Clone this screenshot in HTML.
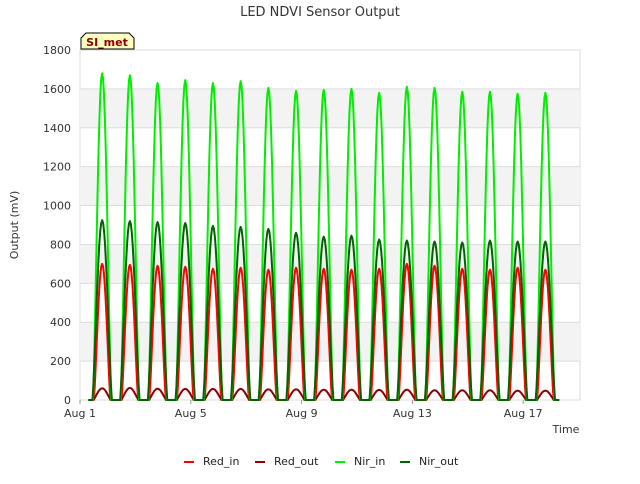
<!DOCTYPE html>
<html><head><meta charset="utf-8"><style>
body{margin:0;background:#fff;font-family:"DejaVu Sans","Liberation Sans",sans-serif}
</style></head><body>
<svg id="c" width="640" height="480" xmlns="http://www.w3.org/2000/svg" font-family="DejaVu Sans, Liberation Sans, sans-serif">
<text x="320" y="16" text-anchor="middle" font-size="13" fill="#333">LED NDVI Sensor Output</text>
<g id="plot"></g>
<text transform="translate(18,225) rotate(-90)" text-anchor="middle" font-size="11" fill="#333">Output (mV)</text>
<text x="566" y="433" text-anchor="middle" font-size="11" fill="#333">Time</text>
<g><path d="M81,49 L81,38 L86,33 L129,33 L134,38 L134,49 Z" fill="#ffffc0" stroke="#000" stroke-width="1"/><text x="107" y="46" text-anchor="middle" font-size="11" font-weight="bold" fill="#8b0000">SI_met</text></g>
<g id="legend"></g>
</svg>
<script>
const dayPeakTimes=[1,2,3,4,5,6,7,8,9,10,11,12,13,14,15,16,17];
const nirIn=[1680,1670,1630,1645,1630,1640,1605,1590,1595,1600,1580,1610,1605,1585,1585,1575,1580];
const nirOut=[925,920,915,910,895,890,880,860,840,845,825,820,815,810,820,815,815];
const redIn=[700,695,690,685,675,680,670,680,675,670,675,700,690,675,670,680,670];
const redOut=[60,62,58,57,57,57,55,55,53,53,52,53,50,50,50,48,48];
const yTicks=[0,200,400,600,800,1000,1200,1400,1600,1800];
const xTicks=[1,5,9,13,17];
const xTickLabels=["Aug 1","Aug 5","Aug 9","Aug 13","Aug 17"];
const L=80,R=580,T=50,B=400;
const xs=d=>L+(d-1)*27.7;
const ys=v=>B-v*(B-T)/1800;
const NS="http://www.w3.org/2000/svg";
const plot=document.getElementById('plot');
function mk(tag,attrs,parent){const e=document.createElementNS(NS,tag);for(const k in attrs)e.setAttribute(k,attrs[k]);parent.appendChild(e);return e;}
mk('rect',{x:L,y:T,width:R-L,height:B-T,fill:'#fff',stroke:'#ddd'},plot);
for(let i=0;i<yTicks.length-1;i++){
  if(i%2===1){const r=mk('rect',{x:L,y:ys(yTicks[i+1]),width:R-L,height:ys(yTicks[i])-ys(yTicks[i+1]),fill:'#f3f3f3'},plot);
  
  }
}
yTicks.forEach(v=>{
  mk('line',{x1:L,x2:R,y1:ys(v),y2:ys(v),stroke:'#ddd'},plot);
  const t=mk('text',{x:71,y:ys(v)+4,'text-anchor':'end','font-size':11,fill:'#333'},plot);t.textContent=v;
  
  
});
xTicks.forEach((d,i)=>{
  mk('line',{x1:xs(d),x2:xs(d),y1:B,y2:B+4,stroke:'#999'},plot);
  const t=mk('text',{x:xs(d),y:B+17,'text-anchor':'middle','font-size':11,fill:'#333'},plot);t.textContent=xTickLabels[i];
  
  
});
const series=[
 {name:'Red_in',vals:redIn,col:'#ff0000',w:0.3},
 {name:'Red_out',vals:redOut,col:'#8b0000',w:0.32},
 {name:'Nir_in',vals:nirIn,col:'#00ee00',w:0.33},
 {name:'Nir_out',vals:nirOut,col:'#006400',w:0.35}
];
series.forEach(s=>{
  let d=`M${xs(1.3)},${ys(0)}`;
  dayPeakTimes.forEach((day,i)=>{
    const c=day+0.8;
    d+=` L${xs(c-s.w)},${ys(0)}`;
    for(let k=-10;k<=10;k++){const t=k/10;const v=s.vals[i]*Math.pow(Math.cos(t*Math.PI/2),1.3);d+=` L${xs(c+t*s.w)},${ys(v)}`;}
  });
  d+=` L${xs(18.3)},${ys(0)}`;
  const p=mk('path',{d:d,fill:'none',stroke:s.col,'stroke-width':2,'stroke-linejoin':'round'},plot);
  
  
});
const lg=document.getElementById('legend');
const lx=[184,255,335,400];
series.forEach((s,i)=>{
  const g=mk('g',{},lg);
  
  
  mk('line',{x1:lx[i],x2:lx[i]+10,y1:462,y2:462,stroke:s.col,'stroke-width':2},g);
  const t=mk('text',{x:lx[i]+19,y:465,'font-size':11,fill:'#222'},g);t.textContent=s.name;
});
</script>
</body></html>
